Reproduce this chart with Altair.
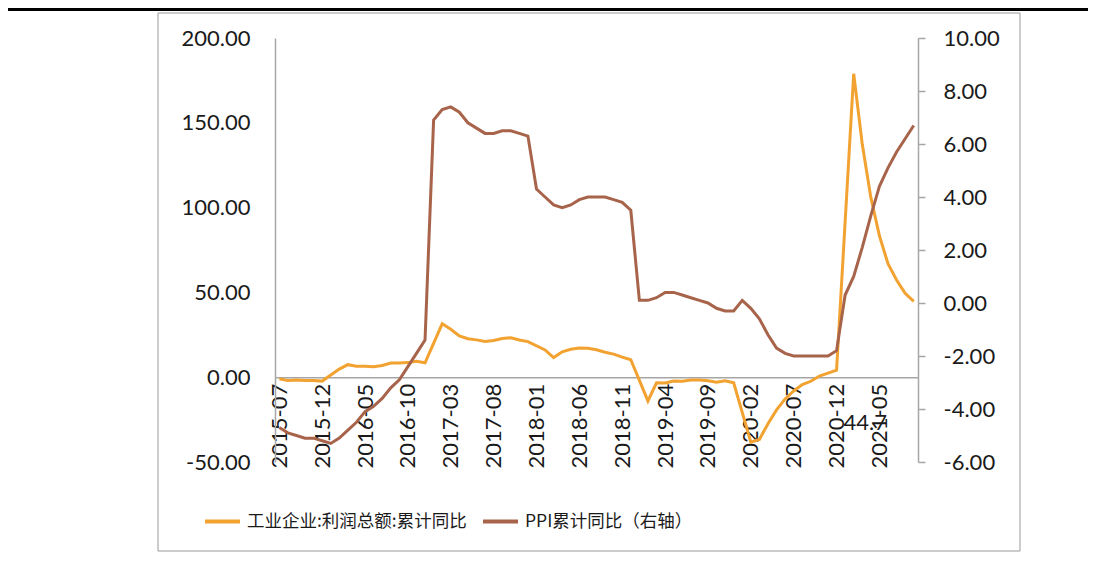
import altair as alt
import pandas as pd

months = [str(p) for p in pd.period_range("2015-07", "2021-09", freq="M")]

# 工业企业:利润总额:累计同比 (left axis); January has no release (None)
profit = [
    -1.0, -1.9, -1.7, -1.9, -1.9, -2.3,
    None, 4.8, 7.4, 6.5, 6.4, 6.2, 6.9, 8.4, 8.4, 8.6, 9.4, 8.5,
    None, 31.5, 28.3, 24.4, 22.7, 22.0, 21.1, 21.6, 22.8, 23.3, 21.9, 21.0,
    None, 16.1, 11.6, 15.0, 16.5, 17.2, 17.1, 16.2, 14.7, 13.6, 11.8, 10.3,
    None, -14.0, -3.3, -3.4, -2.3, -2.4, -1.7, -1.7, -2.1, -2.9, -2.1, -3.3,
    None, -38.3, -36.7, -27.4, -19.3, -12.8, -8.1, -4.4, -2.4, 0.7, 2.4, 4.1,
    None, 178.9, 137.3, 106.0, 83.4, 66.9, 57.3, 49.5, 44.7,
]

# PPI累计同比 (right axis)
ppi = [
    -4.7, -4.9, -5.0, -5.1, -5.1, -5.2,
    -5.3, -5.1, -4.8, -4.5, -4.1, -3.9, -3.6, -3.2, -2.9, -2.4, -1.9, -1.4,
    6.9, 7.3, 7.4, 7.2, 6.8, 6.6, 6.4, 6.4, 6.5, 6.5, 6.4, 6.3,
    4.3, 4.0, 3.7, 3.6, 3.7, 3.9, 4.0, 4.0, 4.0, 3.9, 3.8, 3.5,
    0.1, 0.1, 0.2, 0.4, 0.4, 0.3, 0.2, 0.1, 0.0, -0.2, -0.3, -0.3,
    0.1, -0.2, -0.6, -1.2, -1.7, -1.9, -2.0, -2.0, -2.0, -2.0, -2.0, -1.8,
    0.3, 1.0, 2.1, 3.3, 4.4, 5.1, 5.7, 6.2, 6.7,
]

left_ticks = [-50, 0, 50, 100, 150, 200]
right_ticks = [-6, -4, -2, 0, 2, 4, 6, 8, 10]
x_labels = months[::5]

S1 = "工业企业:利润总额:累计同比"
S2 = "PPI累计同比（右轴）"
ann_month, ann_value, ann_text = "2021-03", -27.2, "44.7"

ORANGE = "#F2A230"
BROWN = "#A8644B"
GRAY = "#A6A6A6"
TXT = "#1a1a1a"
NUMFONT = "Lato"
CJK = "Noto Sans CJK SC"

W, H = 643, 424

df1 = pd.DataFrame({"month": months, "value": profit, "series": S1}).dropna()
df2 = pd.DataFrame({"month": months, "value": ppi, "series": S2})
df_ann = pd.DataFrame({"month": [ann_month], "value": [ann_value], "label": [ann_text]})
df_one = pd.DataFrame({"k": [0]})

neg_fmt = "(datum.value < 0 ? '-' : '') + format(abs(datum.value), '.2f')"

x_enc = alt.X(
    "month:O",
    sort=months,
    scale=alt.Scale(domain=months),
    axis=alt.Axis(
        values=x_labels, labelAngle=-90, offset=-84.8, ticks=False,
        domainColor=GRAY, domainWidth=1.5, labelFont=NUMFONT, labelFontSize=22,
        labelColor=TXT, labelPadding=6, title=None, labelOverlap=False, grid=False,
    ),
)

legend = alt.Legend(
    title=None, orient="none", legendX=-72, legendY=464, direction="horizontal",
    symbolType="stroke", symbolStrokeWidth=4, symbolSize=1225,
    labelFont=CJK, labelFontSize=17.5, labelColor=TXT, labelOffset=5,
    columnPadding=8, labelLimit=400,
)
color = alt.Color("series:N", scale=alt.Scale(domain=[S1, S2], range=[ORANGE, BROWN]), legend=legend)

left_scale = alt.Scale(domain=[-50, 200], nice=False, zero=False)
left_axis = alt.Axis(
    orient="left", values=left_ticks, labelExpr=neg_fmt, ticks=False,
    domainColor=GRAY, domainWidth=1.5, labelPadding=25, labelFont=NUMFONT,
    labelFontSize=22, labelColor=TXT, title=None, grid=False,
)

orange = alt.Chart(df1).mark_line(strokeWidth=3).encode(
    x=x_enc,
    y=alt.Y("value:Q", scale=left_scale, axis=left_axis),
    color=color,
)

ann = alt.Chart(df_ann).mark_text(
    font=NUMFONT, fontSize=22, color=TXT, align="center", baseline="middle", dx=3
).encode(
    x=x_enc,
    y=alt.Y("value:Q", scale=left_scale, axis=left_axis),
    text="label:N",
)

box = alt.Chart(df_one).mark_rect(fillOpacity=0, stroke="#9A9A9A", strokeWidth=1).encode(
    x=alt.value(-117), x2=alt.value(745), y=alt.value(-25), y2=alt.value(513)
)
topline = alt.Chart(df_one).mark_rule(strokeWidth=3, color="black").encode(
    x=alt.value(-267), x2=alt.value(813), y=alt.value(-28.5)
)

brown = alt.Chart(df2).mark_line(strokeWidth=3).encode(
    x=x_enc,
    y=alt.Y(
        "value:Q",
        scale=alt.Scale(domain=[-6, 10], nice=False, zero=False),
        axis=alt.Axis(
            orient="right", values=right_ticks, labelExpr=neg_fmt, ticks=True,
            tickSize=7, tickColor=GRAY, tickWidth=1.5, domainColor=GRAY, domainWidth=1.5,
            labelPadding=18, labelFont=NUMFONT, labelFontSize=22, labelColor=TXT,
            title=None, grid=False,
        ),
    ),
    color=color,
)

left_layer = alt.layer(box, topline, orange, ann)

chart = (
    alt.layer(left_layer, brown)
    .resolve_scale(y="independent")
    .properties(
        width=W, height=H,
        padding={"left": 267, "top": 30, "right": 170, "bottom": 91},
        autosize=alt.AutoSizeParams(type="none"),
        background="white",
    )
    .configure_view(stroke="transparent")
)

chart.save("out.html", embed_options={"renderer": "svg", "actions": False})
